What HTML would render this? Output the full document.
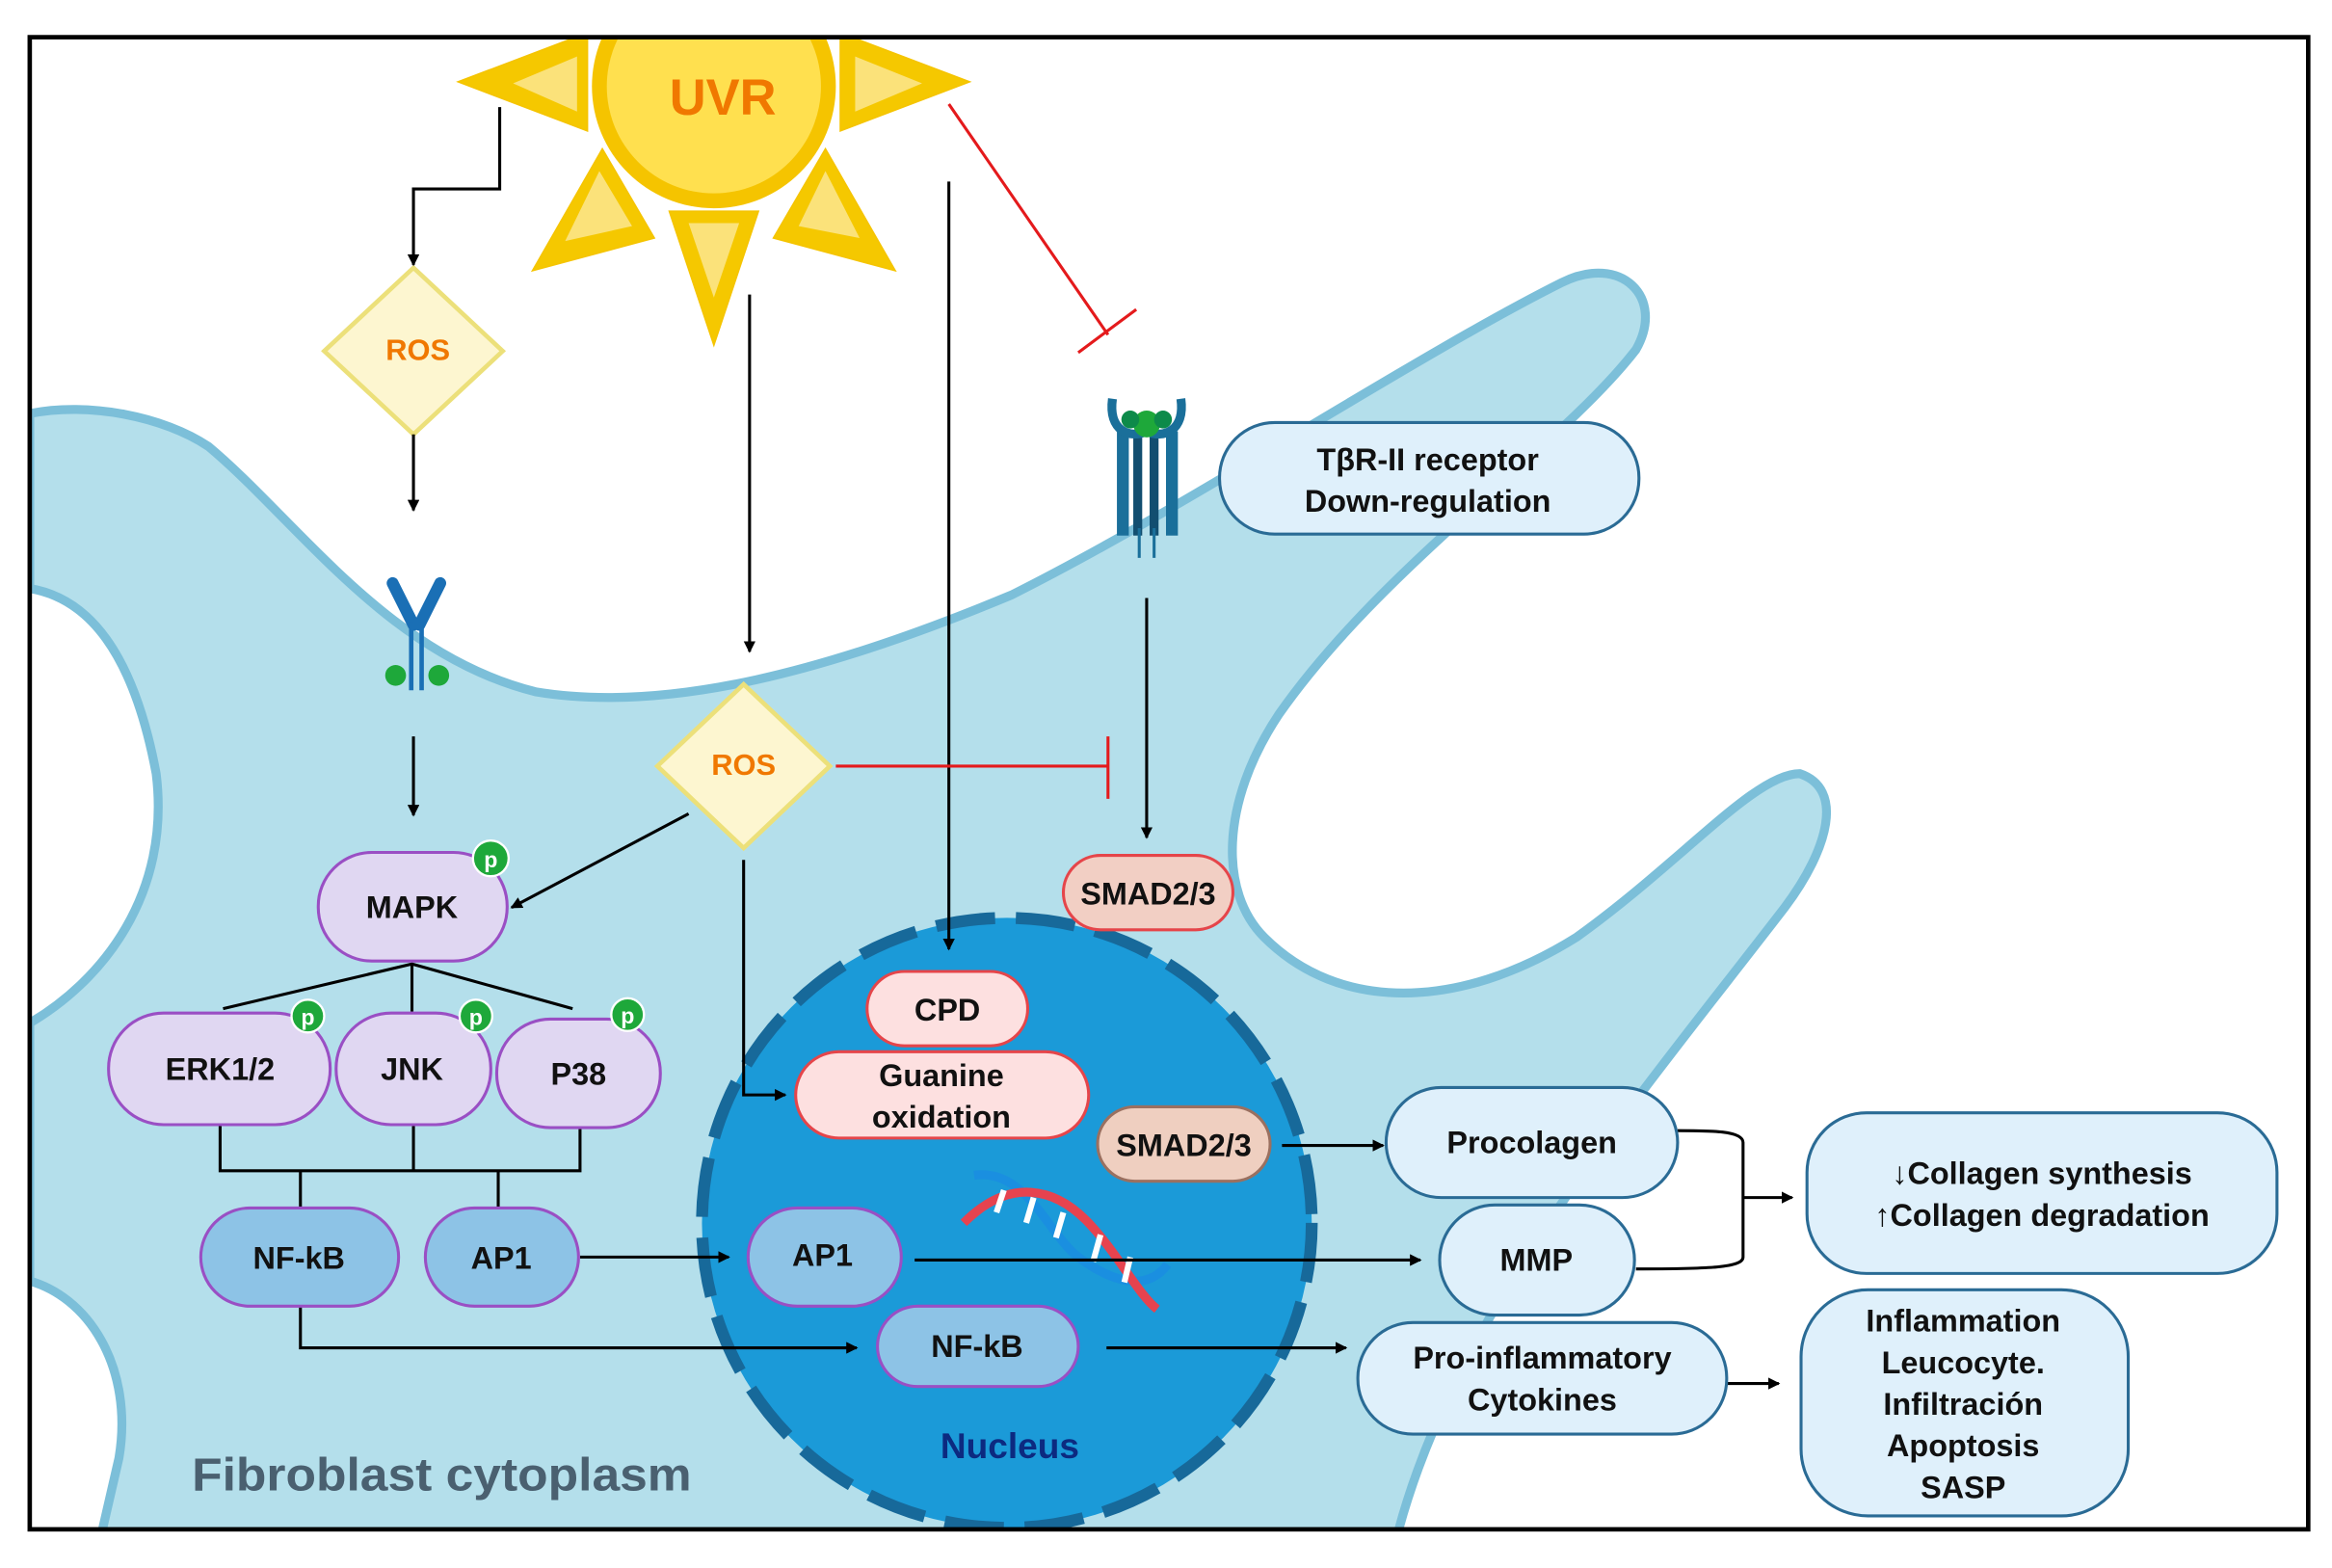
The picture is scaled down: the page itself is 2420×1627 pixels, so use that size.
<!DOCTYPE html>
<html><head><meta charset="utf-8"><style>
html,body{margin:0;padding:0;background:#fff}
svg{display:block}
text{font-family:"Liberation Sans",sans-serif;font-weight:bold}
</style></head><body>
<svg width="2420" height="1627" viewBox="0 0 1568 1054" preserveAspectRatio="none" xmlns="http://www.w3.org/2000/svg">
<defs>
<marker id="a" markerWidth="8" markerHeight="8" refX="7" refY="4" orient="auto" markerUnits="userSpaceOnUse"><path d="M0,0 L8,4 L0,8 Z" fill="#000"/></marker>
<clipPath id="fr"><rect x="20" y="25" width="1532" height="1003"/></clipPath>
</defs>
<rect width="1568" height="1054" fill="#fff"/>
<g clip-path="url(#fr)">
<path d="M20,278 C60,270 110,280 140,300 C200,350 260,440 360,465 C450,480 560,450 680,400 C800,340 950,240 1050,190 C1090,170 1120,200 1100,235 C1050,300 930,380 860,480 C820,540 820,600 850,630 C900,680 980,680 1060,630 C1130,580 1180,520 1210,520 C1240,530 1230,570 1200,610 C1100,740 980,880 940,1030 L20,1030 Z" fill="#b4dfeb" stroke="#7cbfd9" stroke-width="6"/>
<path d="M16,395 C60,400 90,440 105,520 C115,600 70,660 16,690 Z" fill="#fff" stroke="#7cbfd9" stroke-width="6"/>
<path d="M16,860 C60,870 90,920 80,980 L68,1032 L16,1032 Z" fill="#fff" stroke="#7cbfd9" stroke-width="6"/>
<circle cx="677" cy="822" r="205" fill="#1b9ad8" stroke="#17699a" stroke-width="8" stroke-dasharray="40 14"/>
<g fill="#f5c800" stroke="#f5c400">
<polygon points="308,55 395,22 395,88"/>
<polygon points="565,22 652,55 565,88"/>
<polygon points="405,100 440,160 358,182"/>
<polygon points="555,100 602,182 520,160"/>
<polygon points="450,142 510,142 480,232"/>
</g>
<g fill="#fbe27a">
<polygon points="345,56 388,38 388,75"/>
<polygon points="575,38 620,56 575,75"/>
<polygon points="403,115 425,152 380,162"/>
<polygon points="555,115 578,160 537,152"/>
<polygon points="463,150 497,150 480,200"/>
</g>
<circle cx="480" cy="58" r="82" fill="#f5c400"/>
<circle cx="480" cy="58" r="72" fill="#ffe04f"/>
</g>
<rect x="20" y="25" width="1532" height="1003" fill="none" stroke="#000" stroke-width="3"/>
<text x="486" y="77" font-size="34" fill="#f07800" text-anchor="middle">UVR</text>
<polygon points="278,180 338,236 278,292 218,236" fill="#fdf6d0" stroke="#ece07a" stroke-width="3"/>
<text x="281" y="242" font-size="20" fill="#f07800" text-anchor="middle">ROS</text>
<polygon points="500,460 558,515 500,570 442,515" fill="#fdf6d0" stroke="#ece07a" stroke-width="3"/>
<text x="500" y="521" font-size="20" fill="#f07800" text-anchor="middle">ROS</text>
<g stroke="#000" stroke-width="2" fill="none">
<path d="M336,72 V127 H278 V178" marker-end="url(#a)"/>
<path d="M278,292 V343" marker-end="url(#a)"/>
<path d="M278,495 V548" marker-end="url(#a)"/>
<path d="M504,198 V438" marker-end="url(#a)"/>
<path d="M638,122 V638" marker-end="url(#a)"/>
<path d="M771,402 V563" marker-end="url(#a)"/>
<path d="M463,547 L344,610" marker-end="url(#a)"/>
<path d="M500,578 V736 H528" marker-end="url(#a)"/>
<path d="M150,678 L277,648 L385,678 M277,648 V680"/>
<path d="M148,757 V787 H390 V757 M278,757 V787 M202,787 V812 M335,787 V812"/>
<path d="M390,845 H490" marker-end="url(#a)"/>
<path d="M202,878 V906 H576" marker-end="url(#a)"/>
<path d="M744,906 H905" marker-end="url(#a)"/>
<path d="M862,770 H930" marker-end="url(#a)"/>
<path d="M1128,760 C1150,760 1172,760 1172,768 V845 C1172,852 1150,853 1100,853"/>
<path d="M1172,805 H1205" marker-end="url(#a)"/>
<path d="M1160,930 H1196" marker-end="url(#a)"/>
</g>
<g stroke="#e41a1c" stroke-width="2" fill="none">
<path d="M638,70 L745,225 M725,237 L764,208"/>
<path d="M562,515 H745 M745,495 V537"/>
</g>
<g>
<path d="M264,392 L278,420 M296,392 L282,420" stroke="#1a6fb5" stroke-width="8" stroke-linecap="round"/>
<rect x="275" y="418" width="3" height="46" fill="#1a6fb5"/><rect x="282" y="418" width="3" height="46" fill="#1a6fb5"/>
<circle cx="266" cy="454" r="7" fill="#1ea83a"/><circle cx="295" cy="454" r="7" fill="#1ea83a"/>
</g>
<g fill="#1a6f9a">
<rect x="751" y="290" width="8" height="70"/><rect x="762" y="290" width="6" height="70" fill="#124e70"/><rect x="773" y="290" width="6" height="70" fill="#124e70"/><rect x="784" y="290" width="8" height="70"/>
<path d="M748,268 C745,290 760,295 771,290 C782,295 797,290 794,268" stroke="#1a6f9a" stroke-width="6" fill="none"/>
<circle cx="771" cy="285" r="9" fill="#1ea83a"/><circle cx="760" cy="282" r="6" fill="#0d8a4a"/><circle cx="782" cy="282" r="6" fill="#0d8a4a"/>
<rect x="765" y="355" width="2" height="20"/><rect x="775" y="355" width="2" height="20"/>
</g>
<g stroke-width="6" fill="none">
<path d="M655,790 C690,785 705,830 725,845 C745,860 770,870 785,850" stroke="#1a8fe0"/>
<path d="M648,822 C680,790 710,800 730,820 C750,840 765,870 778,880" stroke="#e6434f"/>
<path d="M675,800 L670,815 M695,805 L690,822 M715,815 L710,832 M740,830 L735,848 M760,845 L756,862" stroke="#fff" stroke-width="4"/>
</g>
<path d="M615,847 H955" stroke="#000" stroke-width="2" marker-end="url(#a)"/>
<g fill="#e0d7f2" stroke="#9a4fc4" stroke-width="2">
<rect x="214" y="573" width="127" height="73" rx="36"/>
<rect x="73" y="681" width="149" height="75" rx="37"/>
<rect x="226" y="681" width="104" height="75" rx="37"/>
<rect x="334" y="685" width="110" height="73" rx="36"/>
</g>
<g fill="#8dc3e6" stroke="#9a4fc4" stroke-width="2">
<rect x="135" y="812" width="133" height="66" rx="33"/>
<rect x="286" y="812" width="103" height="66" rx="33"/>
<rect x="503" y="812" width="103" height="66" rx="33"/>
<rect x="590" y="878" width="135" height="54" rx="27"/>
</g>
<g fill="#1ea83a" stroke="#fff" stroke-width="1.5">
<circle cx="330" cy="577" r="12"/><circle cx="207" cy="683" r="11"/><circle cx="320" cy="683" r="11"/><circle cx="422" cy="682" r="11"/>
</g>
<g font-size="15" fill="#fff" text-anchor="middle" font-weight="normal">
<text x="330" y="583">p</text><text x="207" y="689">p</text><text x="320" y="689">p</text><text x="422" y="688">p</text>
</g>
<g fill="#fde0e0" stroke="#e5454a" stroke-width="2">
<rect x="583" y="653" width="108" height="50" rx="25"/>
<rect x="535" y="707" width="197" height="58" rx="29"/>
<rect x="715" y="575" width="114" height="50" rx="25" fill="#f2cfc4"/>
</g>
<rect x="738" y="744" width="116" height="50" rx="25" fill="#efcfc0" stroke="#9a7060" stroke-width="2"/>
<g fill="#dff0fb" stroke="#2a6b95" stroke-width="2">
<rect x="820" y="284" width="282" height="75" rx="37"/>
<rect x="932" y="731" width="196" height="74" rx="37"/>
<rect x="968" y="810" width="131" height="74" rx="37"/>
<rect x="913" y="889" width="248" height="75" rx="37"/>
<rect x="1215" y="748" width="316" height="108" rx="40"/>
<rect x="1211" y="867" width="220" height="152" rx="45"/>
</g>
<g font-size="21" fill="#111" text-anchor="middle">
<text x="277" y="617">MAPK</text>
<text x="148" y="726">ERK1/2</text>
<text x="277" y="726">JNK</text>
<text x="389" y="729">P38</text>
<text x="201" y="853">NF-kB</text>
<text x="337" y="853">AP1</text>
<text x="553" y="851">AP1</text>
<text x="657" y="912">NF-kB</text>
<text x="637" y="686">CPD</text>
<text x="633" y="730">Guanine</text>
<text x="633" y="758">oxidation</text>
<text x="772" y="608">SMAD2/3</text>
<text x="796" y="777">SMAD2/3</text>
<text x="960" y="316">TβR-II receptor</text>
<text x="960" y="344">Down-regulation</text>
<text x="1030" y="775">Procolagen</text>
<text x="1033" y="854">MMP</text>
<text x="1037" y="920">Pro-inflammatory</text>
<text x="1037" y="948">Cytokines</text>
<text x="1373" y="796">↓Collagen synthesis</text>
<text x="1373" y="824">↑Collagen degradation</text>
<text x="1320" y="895">Inflammation</text>
<text x="1320" y="923">Leucocyte.</text>
<text x="1320" y="951">Infiltración</text>
<text x="1320" y="979">Apoptosis</text>
<text x="1320" y="1007">SASP</text>
</g>
<text x="679" y="980" font-size="24" fill="#0c2a80" text-anchor="middle">Nucleus</text>
<text x="297" y="1002" font-size="31" fill="#4a6070" text-anchor="middle" textLength="336" lengthAdjust="spacingAndGlyphs">Fibroblast cytoplasm</text>
</svg>
</body></html>
